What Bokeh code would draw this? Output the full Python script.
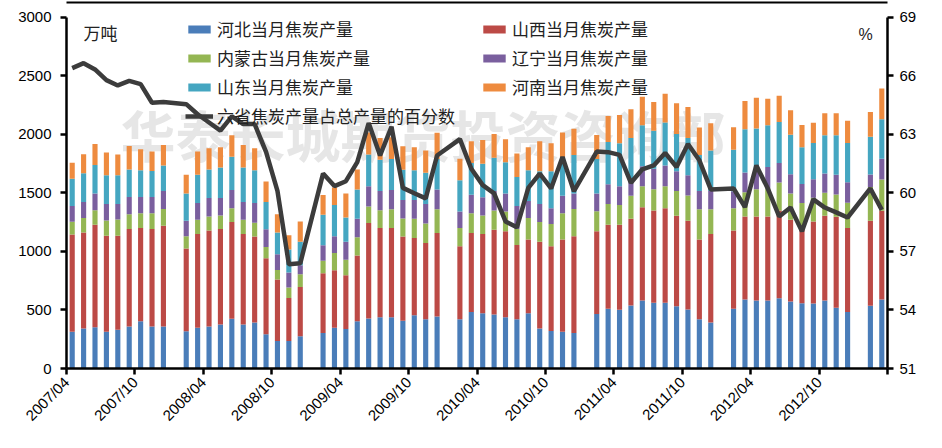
from math import pi
from bokeh.plotting import figure
from bokeh.models import (Range1d, LinearAxis, FixedTicker, Legend, LegendItem,
                          Label, ColumnDataSource)
from bokeh.embed import file_html
from bokeh.resources import INLINE

months = ["2007/04", "2007/05", "2007/06", "2007/07", "2007/08", "2007/09", "2007/10", "2007/11", "2007/12",
          "2008/02", "2008/03", "2008/04", "2008/05", "2008/06", "2008/07", "2008/08", "2008/09", "2008/10", "2008/11", "2008/12",
          "2009/02", "2009/03", "2009/04", "2009/05", "2009/06", "2009/07", "2009/08", "2009/09", "2009/10", "2009/11", "2009/12",
          "2010/02", "2010/03", "2010/04", "2010/05", "2010/06", "2010/07", "2010/08", "2010/09", "2010/10", "2010/11", "2010/12",
          "2011/02", "2011/03", "2011/04", "2011/05", "2011/06", "2011/07", "2011/08", "2011/09", "2011/10", "2011/11", "2011/12",
          "2012/02", "2012/03", "2012/04", "2012/05", "2012/06", "2012/07", "2012/08", "2012/09", "2012/10", "2012/11", "2012/12",
          "2013/02", "2013/03"]

hebei = [313, 341, 352, 313, 332, 358, 403, 358, 358,
         318, 349, 358, 375, 425, 375, 392, 293, 234, 234, 276,
         304, 349, 338, 403, 428, 437, 437, 408, 454, 420, 445,
         420, 482, 473, 462, 437, 420, 473, 341, 321, 313, 304,
         465, 510, 501, 538, 580, 561, 561, 532, 504, 420, 392,
         510, 589, 580, 580, 600, 572, 558, 555, 580, 518, 482,
         537, 589]
shanxi = [831, 820, 876, 822, 803, 834, 797, 834, 862,
          707, 800, 822, 817, 826, 774, 735, 648, 526, 369, 420,
          510, 490, 459, 563, 814, 763, 763, 719, 661, 653, 713,
          625, 676, 676, 724, 735, 636, 628, 741, 724, 788, 826,
          707, 718, 727, 741, 798, 788, 808, 772, 758, 681, 757,
          670, 710, 719, 719, 750, 698, 642, 701, 724, 778, 718,
          725, 758]
neimenggu = [110, 124, 124, 130, 138, 126, 127, 135, 143,
             105, 121, 119, 115, 118, 121, 118, 96, 82, 90, 110,
             107, 147, 133, 155, 141, 152, 161, 155, 165, 166, 203,
             155, 169, 158, 163, 169, 136, 184, 169, 189, 226, 233,
             172, 178, 169, 197, 180, 183, 189, 212, 217, 260, 212,
             189, 206, 233, 239, 239, 226, 214, 203, 197, 191, 217,
             288, 267]
liaoning = [135, 138, 144, 141, 133, 147, 138, 138, 153,
            132, 144, 157, 149, 155, 153, 169, 152, 133, 127, 77,
            132, 144, 152, 158, 175, 164, 163, 158, 159, 167, 169,
            141, 158, 155, 167, 155, 197, 146, 155, 135, 149, 133,
            152, 169, 161, 133, 169, 175, 177, 169, 172, 155, 155,
            146, 170, 175, 183, 166, 163, 163, 158, 164, 169, 175,
            107, 178]
shandong = [231, 245, 242, 245, 245, 236, 228, 222, 219,
            234, 242, 245, 262, 285, 295, 279, 234, 187, 197, 200,
            260, 267, 208, 251, 270, 267, 265, 259, 254, 267, 259,
            267, 270, 287, 284, 267, 248, 262, 279, 316, 330, 329,
            293, 360, 366, 360, 352, 324, 366, 318, 318, 309, 346,
            353, 368, 344, 358, 350, 338, 313, 310, 327, 336, 335,
            323, 338]
henan = [138, 163, 180, 194, 177, 200, 180, 167, 175,
         160, 198, 181, 172, 183, 192, 189, 174, 156, 122, 172,
         169, 150, 206, 171, 189, 186, 186, 200, 197, 189, 225,
         184, 186, 203, 203, 195, 200, 197, 256, 239, 211, 223,
         205, 223, 242, 245, 242, 245, 246, 262, 265, 234, 234,
         194, 242, 262, 225, 225, 209, 190, 172, 188, 188, 189,
         212, 262]
share_pct = [66.40, 66.65, 66.33, 65.78, 65.51, 65.74, 65.58, 64.62, 64.66,
             64.55, 64.03, 63.61, 63.19, 63.92, 63.53, 63.53, 62.10, 60.10, 56.34, 56.39,
             60.99, 60.35, 60.60, 61.58, 63.58, 61.92, 63.39, 60.26, 59.98, 59.72, 61.92,
             62.76, 61.24, 60.40, 59.98, 58.54, 58.24, 60.26, 60.99, 60.23, 61.84, 60.09,
             62.12, 62.09, 61.95, 60.52, 61.21, 61.41, 62.05, 61.33, 62.51, 61.67, 60.18,
             60.23, 59.27, 61.41, 60.23, 58.79, 59.25, 58.03, 59.67, 59.25, 59.00, 58.74,
             60.23, 59.13]

left_ticks = [0, 500, 1000, 1500, 2000, 2500, 3000]
right_ticks = [51, 54, 57, 60, 63, 66, 69]
tick_months = ["2007/04", "2007/10", "2008/04", "2008/10", "2009/04", "2009/10",
               "2010/04", "2010/10", "2011/04", "2011/10", "2012/04", "2012/10", "2013/04"]
tick_labels = ["2007/04", "2007/10", "2008/04", "2008/10", "2009/04", "2009/10",
               "2010/04", "2010/10", "2011/04", "2011/10", "2012/04", "2012/10", ""]

series_names = ["河北当月焦炭产量", "山西当月焦炭产量", "内蒙古当月焦炭产量",
                "辽宁当月焦炭产量", "山东当月焦炭产量", "河南当月焦炭产量"]
line_name = "六省焦炭产量占总产量的百分数"
colors = ["#4A7DB9", "#BC4A46", "#94B653", "#7A5F9E", "#45A6C1", "#EE8B3F"]


def month_index(s):
    y, m = s.split("/")
    return (int(y) - 2007) * 12 + int(m) - 4


xs = [month_index(m) + 0.5 for m in months]
tick_pos = [month_index(m) for m in tick_months]

keys = ["hebei", "shanxi", "neimenggu", "liaoning", "shandong", "henan"]
src = ColumnDataSource(dict(x=xs, hebei=hebei, shanxi=shanxi, neimenggu=neimenggu,
                            liaoning=liaoning, shandong=shandong, henan=henan,
                            pct=share_pct))

# layout: frame extends 15px above the top tick so a rule can sit at the chart's top edge
W, H = 926, 432
B_LEFT, B_RIGHT, B_TOP, B_BOTTOM = 66, 39, 2, 60
AXIS_PX = 355
frame_h = H - B_TOP - B_BOTTOM
stretch = frame_h / AXIS_PX
y0, y1 = left_ticks[0], left_ticks[-1]
r0, r1 = right_ticks[0], right_ticks[-1]

p = figure(width=W, height=H, output_backend="svg", toolbar_location=None,
           x_range=Range1d(0, 72), y_range=Range1d(y0, y0 + (y1 - y0) * stretch),
           min_border_left=B_LEFT, min_border_right=B_RIGHT,
           min_border_top=B_TOP, min_border_bottom=B_BOTTOM)
p.outline_line_color = None
p.xgrid.visible = False
p.ygrid.visible = False
p.background_fill_color = "white"

CJK = "Noto Sans CJK SC"
NUMF = "Liberation Sans Narrow, Liberation Sans"

wm = Label(x=54, y=196, x_units="screen", y_units="screen", text="华泰长城期货投资咨询部",
           text_font=CJK, text_font_size="55px", text_font_style="bold",
           text_color="#dcdcdc", text_alpha=0.7, level="underlay")
p.add_layout(wm)

bars = p.vbar_stack(keys, x="x", width=0.45, color=colors, source=src, line_color=None)

p.extra_y_ranges = {"pct": Range1d(r0, r0 + (r1 - r0) * stretch)}
ln = p.line("x", "pct", source=src, y_range_name="pct", line_color="#3c3c3c", line_width=4.5)

p.yaxis.ticker = FixedTicker(ticks=left_ticks)
p.yaxis.bounds = (y0, y1)
p.xaxis.ticker = FixedTicker(ticks=tick_pos)
p.xaxis.major_label_overrides = {t: l for t, l in zip(tick_pos, tick_labels)}
p.xaxis.major_label_orientation = pi / 4

raxis = LinearAxis(y_range_name="pct", ticker=FixedTicker(ticks=right_ticks), bounds=(r0, r1))
p.add_layout(raxis, "right")

for ax in [p.xaxis[0], p.yaxis[0], raxis]:
    ax.axis_line_width = 2.5
    ax.axis_line_color = "black"
    ax.major_tick_line_width = 2.5
    ax.major_tick_line_color = "black"
    ax.major_tick_out = 6
    ax.major_tick_in = 0
    ax.minor_tick_line_color = None
    ax.major_label_text_font = NUMF
    ax.major_label_text_font_size = "15px"
    ax.major_label_text_color = "black"
p.yaxis[0].major_label_standoff = 9
raxis.major_label_standoff = 6

top_rule = LinearAxis(ticker=FixedTicker(ticks=[]), axis_line_width=2, axis_line_color="black",
                      major_tick_out=0, major_tick_in=0, minor_tick_line_color=None,
                      major_label_standoff=0, major_label_text_font_size="0px")
p.add_layout(top_rule, "above")

left_items = [LegendItem(label=series_names[0], renderers=[bars[0]]),
              LegendItem(label=series_names[2], renderers=[bars[2]]),
              LegendItem(label=series_names[4], renderers=[bars[4]]),
              LegendItem(label=line_name, renderers=[ln])]
right_items = [LegendItem(label=series_names[1], renderers=[bars[1]]),
               LegendItem(label=series_names[3], renderers=[bars[3]]),
               LegendItem(label=series_names[5], renderers=[bars[5]])]

for items, loc in [(left_items, (119, 240)), (right_items, (414, 269))]:
    lg = Legend(items=items, location=loc, padding=0, margin=0, spacing=4,
                glyph_width=28, glyph_height=10, label_height=25, label_standoff=4,
                label_text_font=CJK, label_text_font_size="17px", label_text_color="#222222",
                border_line_color=None, background_fill_alpha=0)
    p.add_layout(lg)

p.add_layout(Label(x=17, y=324, x_units="screen", y_units="screen", text="万吨",
                   text_font=CJK, text_font_size="17px", text_color="#222222"))
p.add_layout(Label(x=792, y=326, x_units="screen", y_units="screen", text="%",
                   text_font=NUMF, text_font_size="16px", text_color="#222222"))

open("out.html", "w").write(file_html(p, INLINE))
